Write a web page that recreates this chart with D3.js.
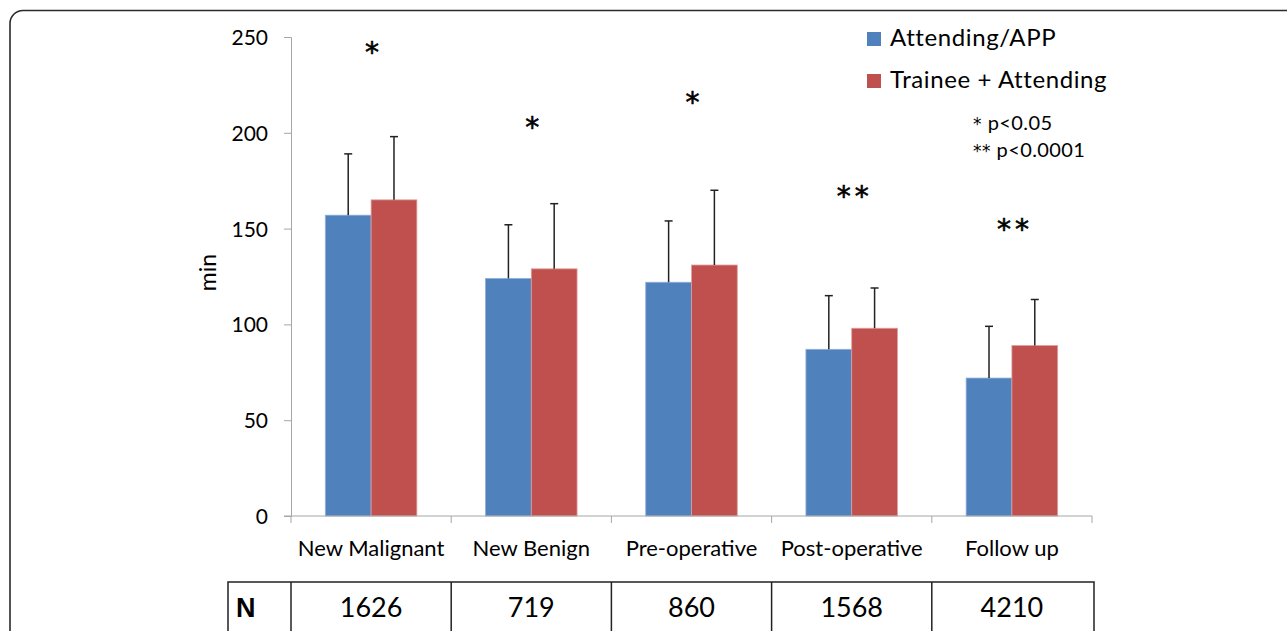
<!DOCTYPE html>
<html>
<head>
<meta charset="utf-8">
<script src="https://cdn.jsdelivr.net/npm/d3@7"></script>
<style>
  body { margin: 0; background: #fff; }
  svg text { font-family: Lato, 'Open Sans', sans-serif; }
</style>
</head>
<body>
<div id="chart"></div>
<script>
// visit durations (minutes)
const categories = ['New Malignant', 'New Benign', 'Pre-operative', 'Post-operative', 'Follow up']
const seriesNames = ['Attending/APP', 'Trainee + Attending']
const attendingMean = [157, 124, 122, 87, 72]
const attendingUpper = [189, 152, 154, 115, 99]
const traineeMean = [165, 129, 131, 98, 89]
const traineeUpper = [198, 163, 170, 119, 113]
const sigMarks = ['*', '*', '*', '**', '**']
const sigLevel = [244, 205, 218, 169, 152]
const counts = ['1626', '719', '860', '1568', '4210']
const yTicks = [0, 50, 100, 150, 200, 250]
const pNotes = ['* p<0.05', '** p<0.0001']

const width = 1287
const height = 631
const plot = { left: 291, right: 1092, top: 37, bottom: 516 }
const colors = ['#4F81BD', '#C0504D']
const edges = ['#8fb0d8', '#e0a09e']
const axisColor = '#a6a6a6'
const starFont = 'DejaVu Sans, sans-serif'

const series = [
  { name: seriesNames[0], mean: attendingMean, upper: attendingUpper },
  { name: seriesNames[1], mean: traineeMean, upper: traineeUpper }
]

const svg = d3.select('#chart')
  .append('svg')
    .attr('width', width)
    .attr('height', height)

// outer frame (runs off the bottom/right of the crop)
svg.append('rect')
  .attr('x', 10)
  .attr('y', 10.5)
  .attr('width', 1320)
  .attr('height', 700)
  .attr('rx', 13)
  .style('fill', 'none')
  .style('stroke', '#2b2b2b')
  .style('stroke-width', 1.6)

const x = d3.scaleBand()
  .domain(categories)
  .range([plot.left, plot.right])
  .paddingInner(0)
  .paddingOuter(0)

const xInner = d3.scaleBand()
  .domain(seriesNames)
  .range([0, x.bandwidth()])
  .paddingInner(0)
  .paddingOuter(0.75)

const y = d3.scaleLinear()
  .domain([0, 250])
  .range([plot.bottom, plot.top])

// y axis
const yAxis = svg.append('g')
  .attr('transform', `translate(${plot.left},0)`)
  .call(d3.axisLeft(y).tickValues(yTicks).tickSize(7).tickPadding(16).tickFormat(d3.format('d')))
yAxis.attr('font-family', null)
yAxis.select('.domain').style('stroke', axisColor)
yAxis.selectAll('.tick line').style('stroke', axisColor)
yAxis.selectAll('.tick text')
  .style('font-size', '21px')
  .style('fill', '#000')
  .attr('dy', '0.36em')

svg.append('text')
  .attr('transform', `translate(216,${(plot.top + plot.bottom) / 2 - 4}) rotate(-90)`)
  .attr('text-anchor', 'middle')
  .style('font-size', '23px')
  .text('min')

// bars
const groups = svg.selectAll('.series')
  .data(series)
  .enter()
  .append('g')
    .attr('class', 'series')

groups.selectAll('rect')
  .data((s, si) => s.mean.map((v, i) => ({ cat: categories[i], v: v, si: si })))
  .enter()
  .append('rect')
    .attr('x', d => x(d.cat) + xInner(seriesNames[d.si]))
    .attr('y', d => y(d.v))
    .attr('width', xInner.bandwidth())
    .attr('height', d => y(0) - y(d.v))
    .style('fill', d => colors[d.si])
    .style('stroke', d => edges[d.si])
    .style('stroke-width', 0.8)

// error bars (upper only)
const errs = groups.selectAll('.err')
  .data((s, si) => s.upper.map((u, i) => ({ cat: categories[i], v: s.mean[i], u: u, si: si })))
  .enter()
  .append('g')
    .attr('class', 'err')
    .attr('transform', d => `translate(${x(d.cat) + xInner(seriesNames[d.si]) + xInner.bandwidth() / 2},0)`)
errs.append('line')
  .attr('y1', d => y(d.v))
  .attr('y2', d => y(d.u))
  .style('stroke', '#222')
  .style('stroke-width', 1.5)
errs.append('line')
  .attr('x1', -4)
  .attr('x2', 4)
  .attr('y1', d => y(d.u))
  .attr('y2', d => y(d.u))
  .style('stroke', '#222')
  .style('stroke-width', 1.5)

// x axis
const xAxis = svg.append('g')
  .attr('transform', `translate(0,${plot.bottom})`)
  .call(d3.axisBottom(x).tickSize(0).tickPadding(0).tickFormat(''))
xAxis.attr('font-family', null)
xAxis.select('.domain').remove()
xAxis.append('line')
  .attr('x1', plot.left - 7)
  .attr('x2', plot.right)
  .style('stroke', axisColor)
xAxis.selectAll('.bound')
  .data(d3.range(categories.length + 1))
  .enter()
  .append('line')
    .attr('class', 'bound')
    .attr('x1', i => plot.left + i * x.step())
    .attr('x2', i => plot.left + i * x.step())
    .attr('y1', 0)
    .attr('y2', 7)
    .style('stroke', axisColor)
xAxis.selectAll('.cat')
  .data(categories)
  .enter()
  .append('text')
    .attr('class', 'cat')
    .attr('x', d => x(d) + x.bandwidth() / 2)
    .attr('y', 40)
    .attr('text-anchor', 'middle')
    .style('font-size', '22px')
    .style('fill', '#000')
    .text(d => d)

// significance marks
svg.selectAll('.sig')
  .data(sigMarks)
  .enter()
  .append('text')
    .attr('class', 'sig')
    .attr('x', (d, i) => x(categories[i]) + x.bandwidth() / 2)
    .attr('y', (d, i) => y(sigLevel[i]))
    .attr('dx', 3)
    .attr('dy', '0.5em')
    .attr('text-anchor', 'middle')
    .style('font-family', starFont)
    .style('font-size', '28px')
    .style('letter-spacing', '4px')
    .style('stroke', '#000')
    .style('stroke-width', 0.6)
    .text(d => d)

// legend
const legend = svg.selectAll('.legend')
  .data(seriesNames)
  .enter()
  .append('g')
    .attr('class', 'legend')
    .attr('transform', (d, i) => `translate(867,${32 + i * 42})`)
legend.append('rect')
  .attr('width', 14)
  .attr('height', 14)
  .style('fill', (d, i) => colors[i])
legend.append('text')
  .attr('x', 23)
  .attr('y', 14)
  .style('font-size', '24px')
  .style('letter-spacing', '0.6px')
  .text(d => d)

const notes = svg.selectAll('.pnote')
  .data(pNotes)
  .enter()
  .append('text')
    .attr('class', 'pnote')
    .attr('x', 973)
    .attr('y', (d, i) => 130 + i * 27)
    .style('font-size', '20px')
    .style('letter-spacing', '0.4px')
notes.append('tspan')
  .style('font-family', starFont)
  .style('font-size', '17px')
  .text(d => d.split(' ')[0] + ' ')
notes.append('tspan')
  .text(d => d.split(' ')[1])

// N table
const tableTop = 582
const table = svg.append('g')
table.append('rect')
  .attr('x', 228)
  .attr('y', tableTop)
  .attr('width', plot.right + 2 - 228)
  .attr('height', 80)
  .style('fill', 'none')
  .style('stroke', '#222')
  .style('stroke-width', 1.5)
table.selectAll('.col')
  .data(d3.range(categories.length))
  .enter()
  .append('line')
    .attr('x1', i => plot.left + i * x.step())
    .attr('x2', i => plot.left + i * x.step())
    .attr('y1', tableTop)
    .attr('y2', height + 5)
    .style('stroke', '#222')
    .style('stroke-width', 1.5)
table.append('text')
  .attr('x', 236)
  .attr('y', 617)
  .style('font-family', 'Liberation Sans, Arial, sans-serif')
  .style('font-weight', 'bold')
  .style('font-size', '27px')
  .text('N')
table.selectAll('.count')
  .data(counts)
  .enter()
  .append('text')
    .attr('class', 'count')
    .attr('x', (d, i) => x(categories[i]) + x.bandwidth() / 2)
    .attr('y', 617)
    .attr('text-anchor', 'middle')
    .style('font-size', '27px')
    .text(d => d)
</script>
</body>
</html>
